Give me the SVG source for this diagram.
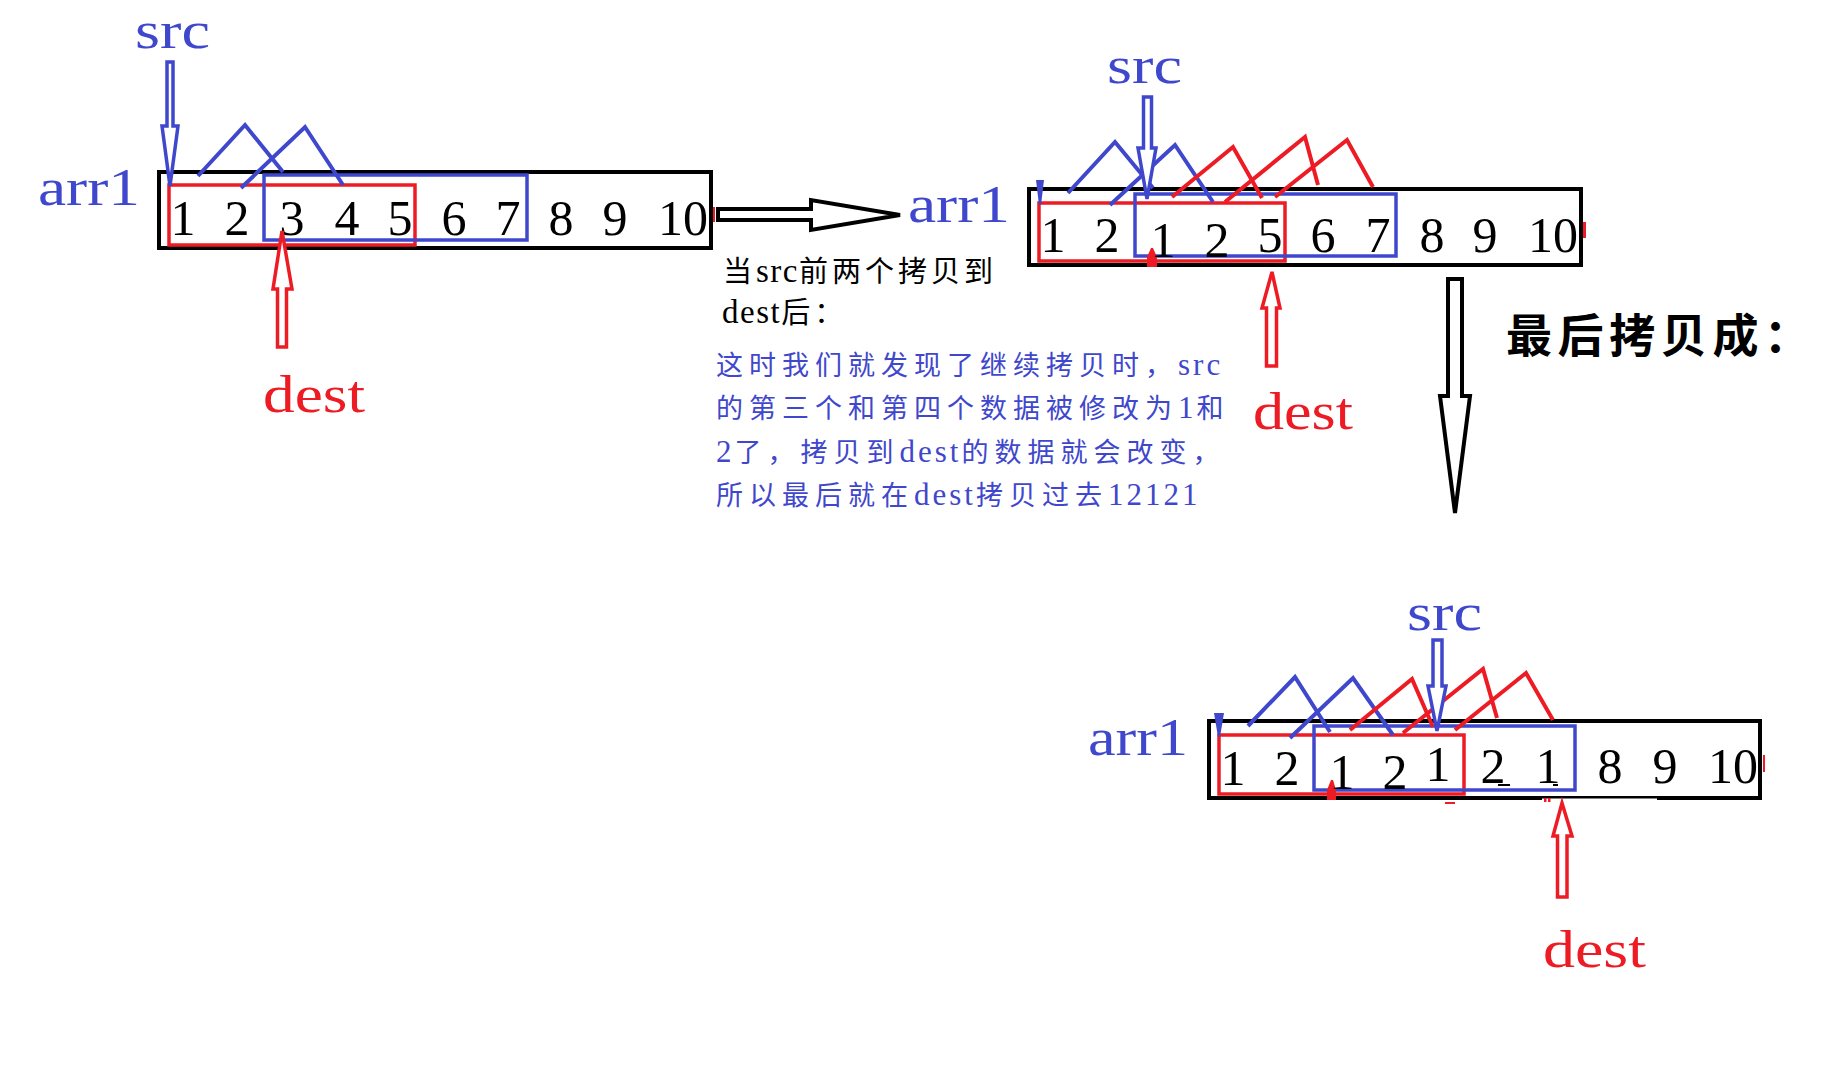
<svg xmlns="http://www.w3.org/2000/svg" width="1830" height="1092" viewBox="0 0 1830 1092">
<style>
.lbl{font-family:"Liberation Serif","DejaVu Serif",serif;font-size:52px}
.num{font-family:"Liberation Serif","DejaVu Serif",serif;font-size:50px;fill:#000;text-anchor:middle}
.cn{font-family:"Liberation Serif","Noto Sans CJK SC",serif}
.lat{font-size:31px;letter-spacing:3px}
.lat2{font-size:33px;letter-spacing:1.5px}
.blue{fill:#3F48CC}
.red{fill:#ED1C24}
.box{fill:none;stroke:#000;stroke-width:4}
.rbox{fill:none;stroke:#ED1C24;stroke-width:3.5}
.bbox{fill:none;stroke:#3F48CC;stroke-width:3.5}
.zb{fill:none;stroke:#3F48CC;stroke-width:4}
.zr{fill:none;stroke:#ED1C24;stroke-width:4}
.ab{fill:#fff;stroke:#3F48CC;stroke-width:3.5;stroke-linejoin:miter}
.ar{fill:#fff;stroke:#ED1C24;stroke-width:3.5;stroke-linejoin:miter}
.ak{fill:#fff;stroke:#000;stroke-width:4;stroke-linejoin:miter}
</style>
<rect width="1830" height="1092" fill="#fff"/>

<!-- Panel 1 -->
<g id="panel1">
  <rect class="box" x="159" y="172" width="552" height="76"/>
  <rect class="rbox" x="169" y="185" width="246" height="60"/>
  <rect class="bbox" x="264" y="175" width="263" height="65"/>
  <rect x="713" y="207" width="2" height="15" fill="#ED1C24"/>
  <text class="num" y="235"><tspan x="183">1</tspan><tspan x="237">2</tspan><tspan x="292">3</tspan><tspan x="347">4</tspan><tspan x="400">5</tspan><tspan x="454">6</tspan><tspan x="508">7</tspan><tspan x="561">8</tspan><tspan x="615">9</tspan><tspan x="683">10</tspan></text>
</g>
<g id="p1-src"><text class="lbl blue" x="135" y="48" textLength="75" lengthAdjust="spacingAndGlyphs">src</text></g>
<g id="p1-arr1"><text class="lbl blue" x="38" y="205" textLength="102" lengthAdjust="spacingAndGlyphs">arr1</text></g>
<g id="p1-dest"><text class="lbl red" x="263" y="412" textLength="102" lengthAdjust="spacingAndGlyphs">dest</text></g>

<!-- Panel 2 -->
<g id="panel2">
  <rect class="box" x="1029" y="189" width="552" height="76"/>
  <rect class="rbox" x="1039" y="203" width="246" height="58"/>
  <rect class="bbox" x="1135" y="194" width="261" height="62"/>
  <polygon points="1036,180 1044,180 1041,205 1039,205" fill="#3F48CC"/>
  <polygon points="1151,248 1153,248 1157,257 1157,267 1147,267 1147,257" fill="#ED1C24"/>
  <rect x="1583" y="222" width="3" height="16" fill="#ED1C24"/>
  <text class="num"><tspan x="1053" y="252">1</tspan><tspan x="1107" y="252">2</tspan><tspan x="1163" y="257">1</tspan><tspan x="1217" y="257">2</tspan><tspan x="1270" y="252">5</tspan><tspan x="1323" y="252">6</tspan><tspan x="1378" y="252">7</tspan><tspan x="1432" y="252">8</tspan><tspan x="1485" y="252">9</tspan><tspan x="1553" y="252">10</tspan></text>
</g>
<g id="p2-src"><text class="lbl blue" x="1107" y="83" textLength="75" lengthAdjust="spacingAndGlyphs">src</text></g>
<g id="p2-arr1"><text class="lbl blue" x="908" y="222" textLength="102" lengthAdjust="spacingAndGlyphs">arr1</text></g>
<g id="p2-dest"><text class="lbl red" x="1253" y="429" textLength="100" lengthAdjust="spacingAndGlyphs">dest</text></g>

<!-- Panel 3 -->
<g id="panel3">
  <rect class="box" x="1209" y="721" width="551" height="77"/>
  <rect x="1542" y="798.5" width="115" height="2.5" fill="#fff"/>
  <rect class="rbox" x="1219" y="735" width="245" height="59"/>
  <rect class="bbox" x="1314" y="726" width="261" height="64"/>
  <polygon points="1214,713 1224,713 1220,737 1218,737" fill="#3F48CC"/>
  <polygon points="1331,780 1333,780 1336,790 1336,800 1327,800 1327,790" fill="#ED1C24"/>
  <rect x="1445" y="802" width="10" height="2" fill="#ED1C24"/>
  <rect x="1544" y="798" width="2.5" height="4" fill="#ED1C24"/>
  <rect x="1548" y="798" width="2.5" height="4" fill="#ED1C24"/>
  <rect x="1763" y="755" width="2" height="17" fill="#ED1C24"/>
  <rect x="1498" y="784" width="12" height="2" fill="#000"/>
  <rect x="1553" y="784" width="5" height="2" fill="#000"/>
  <text class="num"><tspan x="1233" y="785">1</tspan><tspan x="1287" y="785">2</tspan><tspan x="1342" y="789">1</tspan><tspan x="1395" y="789">2</tspan><tspan x="1438" y="781">1</tspan><tspan x="1493" y="783">2</tspan><tspan x="1548" y="783">1</tspan><tspan x="1610" y="783">8</tspan><tspan x="1665" y="783">9</tspan><tspan x="1733" y="783">10</tspan></text>
</g>
<g id="p3-src"><text class="lbl blue" x="1407" y="630" textLength="75" lengthAdjust="spacingAndGlyphs">src</text></g>
<g id="p3-arr1"><text class="lbl blue" x="1088" y="755" textLength="100" lengthAdjust="spacingAndGlyphs">arr1</text></g>
<g id="p3-dest"><text class="lbl red" x="1543" y="967" textLength="103" lengthAdjust="spacingAndGlyphs">dest</text></g>

<!-- Captions -->
<g id="caption1">
  <text class="cn" x="723" y="282" font-size="29" letter-spacing="4" fill="#000">当<tspan class="lat2">src</tspan>前两个拷贝到</text>
  <text class="cn" x="722" y="323" font-size="29" letter-spacing="4" fill="#000"><tspan class="lat2">dest</tspan>后：</text>
</g>
<g id="caption2" class="blue">
  <text class="cn" x="716" y="375" font-size="27" letter-spacing="6">这时我们就发现了继续拷贝时，<tspan class="lat">src</tspan></text>
  <text class="cn" x="716" y="418" font-size="27" letter-spacing="6">的第三个和第四个数据被修改为<tspan class="lat">1</tspan>和</text>
  <text class="cn" x="716" y="462" font-size="27" letter-spacing="6"><tspan class="lat">2</tspan>了，拷贝到<tspan class="lat">dest</tspan>的数据就会改变，</text>
  <text class="cn" x="716" y="505" font-size="27" letter-spacing="6">所以最后就在<tspan class="lat">dest</tspan>拷贝过去<tspan class="lat">12121</tspan></text>
</g>
<g id="caption3">
  <text x="1506" y="352" font-family="Noto Sans CJK SC, sans-serif" font-weight="bold" font-size="46" fill="#000" textLength="304">最后拷贝成：</text>
</g>

<!-- Connectors -->
<g id="connectors">
  <polyline class="zb" points="198,176 245,125 283,172"/>
  <polyline class="zb" points="241,188 305,127 343,185"/>
  <path class="ab" d="M167,62 L173,62 L173,126 L178,126 L170,186 L162,126 L167,126 Z"/>
  <path class="ar" d="M277.5,347 L286.5,347 L286.5,289 L292,289 L282,231 L273,289 L277.5,289 Z"/>
  <path class="ak" d="M718,209 L811,209 L811,200 L900,215 L811,230 L811,220 L718,220 Z"/>

  <polyline class="zb" points="1068,193 1115,142 1153,188"/>
  <polyline class="zb" points="1110,205 1175,145 1213,202"/>
  <polyline class="zr" points="1172,197 1233,147 1262,198"/>
  <polyline class="zr" points="1225,202 1305,137 1318,185"/>
  <polyline class="zr" points="1275,197 1347,140 1373,187"/>
  <path class="ab" d="M1143.5,97 L1151.5,97 L1151.5,148 L1156,148 L1147,199 L1138,148 L1143.5,148 Z"/>
  <path class="ar" d="M1266.5,366 L1276.5,366 L1276.5,308 L1280,308 L1272,272 L1262,308 L1266.5,308 Z"/>
  <path class="ak" d="M1448,279 L1462,279 L1462,396 L1470,396 L1455,513 L1440,396 L1448,396 Z"/>

  <polyline class="zb" points="1248,726 1295,677 1330,732"/>
  <polyline class="zb" points="1290,738 1353,678 1393,735"/>
  <polyline class="zr" points="1350,730 1412,679 1433,727"/>
  <polyline class="zr" points="1403,733 1483,669 1497,718"/>
  <polyline class="zr" points="1455,730 1526,673 1553,720"/>
  <path class="ab" d="M1433,640 L1442,640 L1442,686 L1446,686 L1437,731 L1428,686 L1433,686 Z"/>
  <path class="ar" d="M1557.5,897 L1567,897 L1567,836 L1572,836 L1562,803 L1553,836 L1557.5,836 Z"/>
</g>
</svg>
